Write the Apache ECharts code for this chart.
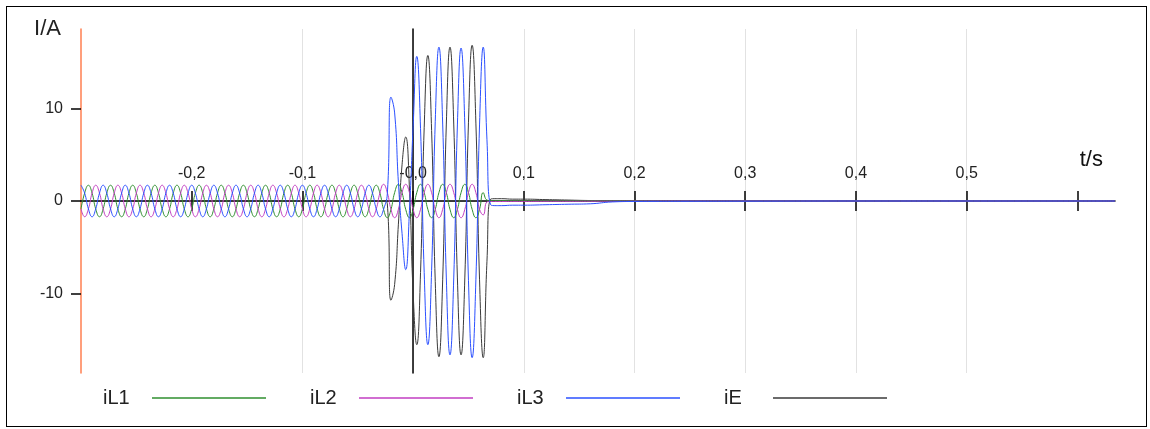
<!DOCTYPE html>
<html>
<head>
<meta charset="utf-8">
<script src="https://cdn.jsdelivr.net/npm/echarts@6/dist/echarts.min.js"></script>
<style>
html,body{margin:0;padding:0;background:#fff;}
#chart{position:absolute;left:0;top:0;width:1150px;height:429px;}
#frame{position:absolute;left:6px;top:6px;width:1141px;height:421px;border:1.5px solid #000;box-sizing:border-box;pointer-events:none;}
</style>
</head>
<body>
<div id="chart"></div>
<div id="frame"></div>
<script>
// time in ms
const tMs = [
  -300,-296.7,-293.3,-290,-286.7,-283.3,-280,-276.7,-273.3,-270,-266.7,-263.3,
  -260,-256.7,-253.3,-250,-246.7,-243.3,-240,-236.7,-233.3,-230,-226.7,-223.3,
  -220,-216.7,-213.3,-210,-206.7,-203.3,-200,-196.7,-193.3,-190,-186.7,-183.3,
  -180,-176.7,-173.3,-170,-166.7,-163.3,-160,-156.7,-153.3,-150,-146.7,-143.3,
  -140,-136.7,-133.3,-130,-126.7,-123.3,-120,-116.7,-113.3,-110,-106.7,-103.3,
  -100,-96.7,-93.3,-90,-86.7,-83.3,-80,-76.7,-73.3,-70,-66.7,-63.3,
  -60,-56.7,-53.3,-50,-46.7,-43.3,-40,-36.7,-33.3,-30,-26.7,-23.3,
  -20,-16.7,-13.3,-10,-6.7,-3.3,0,3.3,6.7,10,13.3,16.7,
  20,23.3,26.7,30,33.3,36.7,40,43.3,46.7,50,53.3,56.7,
  60,63.3,66.7,70,
  75,80,90,100,120,140,160,180,200,250,300,400,500,634
];

const iL1 = [
  -0.85,0.85,1.7,0.85,-0.85,-1.7,-0.85,0.85,1.7,0.85,-0.85,-1.7,
  -0.85,0.85,1.7,0.85,-0.85,-1.7,-0.85,0.85,1.7,0.85,-0.85,-1.7,
  -0.85,0.85,1.7,0.85,-0.85,-1.7,-0.85,0.85,1.7,0.85,-0.85,-1.7,
  -0.85,0.85,1.7,0.85,-0.85,-1.7,-0.85,0.85,1.7,0.85,-0.85,-1.7,
  -0.85,0.85,1.7,0.85,-0.85,-1.7,-0.85,0.85,1.7,0.85,-0.85,-1.7,
  -0.85,0.85,1.7,0.85,-0.85,-1.7,-0.85,0.85,1.7,0.85,-0.85,-1.7,
  -0.85,0.85,1.7,0.85,-0.85,-1.7,-0.85,0.85,1.7,0.85,-0.9,-1.8,
  -0.9,0.9,1.8,0.9,-0.9,-1.8,-0.9,0.9,1.8,0.9,-0.9,-1.8,
  -0.9,0.9,1.8,0.9,-0.9,-1.8,-0.9,0.9,1.8,0.9,-0.9,-1.8,
  -0.9,0.9,0.1,0.05,
  0.05,0.05,0.04,0.04,0.03,0.03,0.02,0.02,0.01,0,0,0,0,0
];

const iL2 = [
  -0.85,-1.7,-0.85,0.85,1.7,0.85,-0.85,-1.7,-0.85,0.85,1.7,0.85,
  -0.85,-1.7,-0.85,0.85,1.7,0.85,-0.85,-1.7,-0.85,0.85,1.7,0.85,
  -0.85,-1.7,-0.85,0.85,1.7,0.85,-0.85,-1.7,-0.85,0.85,1.7,0.85,
  -0.85,-1.7,-0.85,0.85,1.7,0.85,-0.85,-1.7,-0.85,0.85,1.7,0.85,
  -0.85,-1.7,-0.85,0.85,1.7,0.85,-0.85,-1.7,-0.85,0.85,1.7,0.85,
  -0.85,-1.7,-0.85,0.85,1.7,0.85,-0.85,-1.7,-0.85,0.85,1.7,0.85,
  -0.85,-1.7,-0.85,0.85,1.7,0.85,-0.85,-1.7,-0.85,0.85,1.8,0.9,
  -0.9,-1.8,-0.9,0.9,1.8,0.9,-0.9,-1.8,-0.9,0.9,1.8,0.9,
  -0.9,-1.8,-0.9,0.9,1.8,0.9,-0.9,-1.8,-0.9,0.9,1.8,0.9,
  -0.9,-1.5,-0.1,-0.05,
  -0.05,-0.05,-0.04,-0.04,-0.03,-0.03,-0.02,-0.02,-0.01,0,0,0,0,0
];

const iL3 = [
  1.7,0.85,-0.85,-1.7,-0.85,0.85,1.7,0.85,-0.85,-1.7,-0.85,0.85,
  1.7,0.85,-0.85,-1.7,-0.85,0.85,1.7,0.85,-0.85,-1.7,-0.85,0.85,
  1.7,0.85,-0.85,-1.7,-0.85,0.85,1.7,0.85,-0.85,-1.7,-0.85,0.85,
  1.7,0.85,-0.85,-1.7,-0.85,0.85,1.7,0.85,-0.85,-1.7,-0.85,0.85,
  1.7,0.85,-0.85,-1.7,-0.85,0.85,1.7,0.85,-0.85,-1.7,-0.85,0.85,
  1.7,0.85,-0.85,-1.7,-0.85,0.85,1.7,0.85,-0.85,-1.7,-0.85,0.85,
  1.7,0.85,-0.85,-1.7,-0.85,0.85,1.7,0.85,-0.85,-1.7,-0.9,0.8,
  11.2,9.5,2.0,-3.5,-7.4,-1.0,8.0,15.6,7.8,-7.7,-15.5,-7.5,
  8.6,16.6,8.3,-8.3,-16.6,-8.3,8.2,16.5,8.2,-8.6,-16.9,-8.5,
  8.2,16.6,6.6,-0.4,
  -0.5,-0.5,-0.45,-0.45,-0.4,-0.35,-0.3,-0.1,-0.05,-0.03,-0.02,0,0,0
];

const iE = [
  0,0,0,0,0,0,0,0,0,0,0,0,
  0,0,0,0,0,0,0,0,0,0,0,0,
  0,0,0,0,0,0,0,0,0,0,0,0,
  0,0,0,0,0,0,0,0,0,0,0,0,
  0,0,0,0,0,0,0,0,0,0,0,0,
  0,0,0,0,0,0,0,0,0,0,0,0,
  0,0,0,0,0,0,0,0,0,0,0,-0.3,
  -10.7,-9.0,-2.5,3.9,6.9,1.3,-9.9,-15.5,-7.7,7.9,15.7,7.6,
  -8.7,-16.8,-8.5,8.3,16.6,8.3,-8.3,-16.6,-8.3,8.5,16.8,8.4,
  -8.5,-16.9,-6.5,0.2,
  0.25,0.25,0.2,0.2,0.15,0.1,0.05,0.03,0.02,0,0,0,0,0
];

const seriesNames = ['iL1','iL2','iL3','iE'];
const xTicks = [-0.2,-0.1,0,0.1,0.2,0.3,0.4,0.5,0.6];
const xTickLabels = ['-0,2','-0,1','-0,0','0,1','0,2','0,3','0,4','0,5','t/s'];
const yTicks = [-10,0,10];
const yTickLabels = ['-10','0','10'];

const FONT = '"Liberation Sans", Arial, sans-serif';
const COLORS = {iL1:'#2f8f2f', iL2:'#c23ec2', iL3:'#2b50ff', iE:'#3a3a3a'};

// layout
const GRID = {left:81, right:35, top:29, bottom:56};
const PLOT_H = 429 - GRID.top - GRID.bottom;
const ZERO_OFFSET = -PLOT_H / 2;   // y-range is symmetric, so the zero line sits mid-plot

function pairs(vals){ return tMs.map((t,i)=>[t/1000, vals[i]]); }
function labelFor(ticks, labels, v){
  let best = 0;
  for (let i = 1; i < ticks.length; i++) if (Math.abs(ticks[i]-v) < Math.abs(ticks[best]-v)) best = i;
  return labels[best];
}

function mk(name, vals){
  return {
    name: name, type:'line', xAxisIndex:0, yAxisIndex:0,
    data: pairs(vals), showSymbol:false, symbol:'none', smooth:true,
    lineStyle:{color:COLORS[name], width:1}, itemStyle:{color:COLORS[name]},
    emphasis:{disabled:true}, silent:true
  };
}

const chart = echarts.init(document.getElementById('chart'), null, {renderer:'canvas'});
const option = {
  animation:false,
  backgroundColor:'#ffffff',
  textStyle:{fontFamily:FONT},
  grid:Object.assign({containLabel:false, outerBoundsMode:'none'}, GRID),
  legend:{
    data: seriesNames,
    left:98, top:383,
    align:'right', icon:'rect',
    itemWidth:114, itemHeight:1.5, itemGap:44,
    formatter: n => '{a|' + n + '}',
    textStyle:{rich:{a:{width:44, align:'left', fontSize:20, lineHeight:22, color:'#222', fontFamily:FONT}}}
  },
  xAxis:[
    {
      type:'value', position:'bottom', min:-0.3, max:0.634, interval:0.1,
      offset: ZERO_OFFSET,
      axisLine:{show:true, onZero:false, lineStyle:{color:'#000', width:1.5}},
      axisTick:{show:true, length:10, customValues:xTicks, lineStyle:{color:'#000', width:1.5}},
      axisLabel:{
        inside:true,
        customValues:xTicks, margin:19, fontSize:16, color:'#222', fontFamily:FONT,
        formatter: v => { const s = labelFor(xTicks, xTickLabels, v); return s === 't/s' ? '{ts|t/s}' : s; },
        rich:{ts:{fontSize:22, color:'#111', fontFamily:FONT, padding:[0,0,11,28]}}
      },
      splitLine:{show:true, showMinLine:false, showMaxLine:false, lineStyle:{color:'#e2e2e2', width:1}}
    },
    {
      type:'value', position:'bottom', min:-0.3, max:0.634, interval:0.1,
      offset: ZERO_OFFSET,
      axisLine:{show:false, onZero:false},
      axisTick:{show:true, inside:true, length:10, customValues:xTicks, lineStyle:{color:'#000', width:1.5}},
      axisLabel:{show:false}, splitLine:{show:false}
    }
  ],
  yAxis:[
    {
      type:'value', position:'left', min:-18.55, max:18.55,
      name:'I/A', nameLocation:'end', nameGap:0,
      nameTextStyle:{fontSize:22, color:'#222', align:'right', verticalAlign:'middle', padding:[0,20,0,0], fontFamily:FONT},
      axisLine:{show:true, onZero:false, lineStyle:{color:'#ff7f50', width:1.5}},
      axisTick:{show:true, length:10, customValues:yTicks, lineStyle:{color:'#000', width:1.5}},
      axisLabel:{customValues:yTicks, margin:18, fontSize:16, color:'#222', fontFamily:FONT,
        formatter: v => labelFor(yTicks, yTickLabels, v)},
      splitLine:{show:true, showMinLine:false, showMaxLine:false, lineStyle:{color:'#e2e2e2', width:1}}
    },
    {
      type:'value', position:'left', min:-18.55, max:18.55,
      axisLine:{show:true, onZero:true, onZeroAxisIndex:0, lineStyle:{color:'#000', width:1.5}},
      axisTick:{show:false}, axisLabel:{show:false}, splitLine:{show:false}
    }
  ],
  series:[ mk('iE', iE), mk('iL1', iL1), mk('iL2', iL2), mk('iL3', iL3) ]
};
chart.setOption(option);
</script>
</body>
</html>
